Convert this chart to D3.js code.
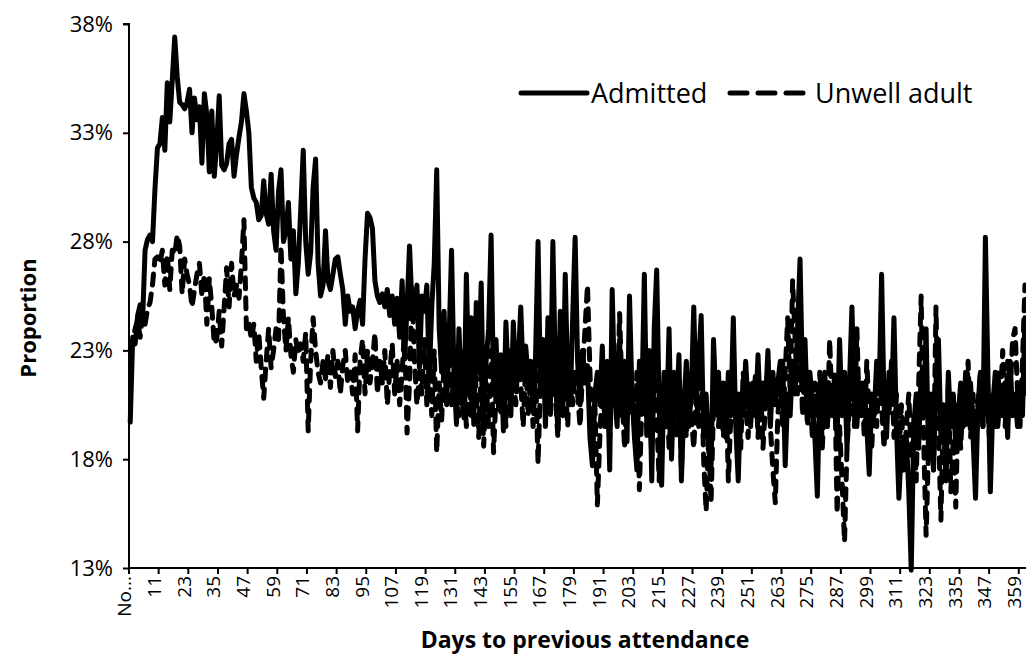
<!DOCTYPE html>
<html><head><meta charset="utf-8">
<script src="https://cdn.jsdelivr.net/npm/d3@7"></script>
<style>
html,body{margin:0;padding:0;background:#fff;}
svg{display:block;font-family:"Open Sans",sans-serif;}
</style></head>
<body><svg id="c" width="1026" height="660"></svg>
<script>
const categories = ["No previous attendance"].concat(d3.range(0, 366).map(String));
const seriesNames = ["Admitted", "Unwell adult"];
const admitted = [
19.7,23.6,23.3,24.6,25.1,24.4,27.6,28.1,28.3,28.0,30.4,32.3,
32.5,33.7,32.2,35.3,33.5,35.4,37.4,35.6,34.4,34.3,34.1,34.4,
35.0,33.0,34.6,33.6,34.2,31.6,34.8,33.8,31.2,34.0,31.0,32.5,
34.7,31.5,31.3,31.6,32.5,32.7,31.0,32.0,32.8,33.5,34.8,34.0,
33.0,30.5,30.0,29.8,29.0,29.2,30.8,29.3,28.8,31.1,28.5,27.6,
30.3,31.3,28.0,28.5,29.8,27.2,28.5,25.6,27.0,29.5,32.2,28.0,
26.5,27.5,30.5,31.8,27.0,25.5,26.0,28.5,26.2,25.8,26.5,27.2,
27.3,26.5,25.8,24.2,25.5,24.8,25.0,24.0,24.8,25.3,24.2,27.2,
29.3,29.1,28.6,26.2,25.5,25.2,25.6,25.0,25.8,24.6,25.5,24.2,
25.4,23.6,26.2,22.6,25.0,27.8,25.0,24.5,26.0,22.2,25.5,24.8,
26.0,21.8,25.0,27.0,31.3,24.0,22.0,24.8,20.5,23.5,27.6,21.8,
19.6,24.0,21.0,19.9,26.5,21.5,24.5,19.6,25.2,22.0,26.1,19.5,
22.5,24.0,28.3,21.0,23.5,20.3,22.8,19.3,24.3,21.5,20.0,24.3,
21.5,22.5,25.0,21.8,23.2,21.7,22.5,20.2,22.8,28.0,21.0,23.5,
19.5,24.5,20.5,28.0,22.0,19.3,24.8,20.0,26.5,21.5,20.5,24.5,
28.2,22.5,20.5,23.0,21.5,22.3,19.0,17.7,21.0,22.0,20.5,23.2,
19.5,22.0,17.5,25.8,21.0,19.5,23.5,20.0,22.5,18.8,25.5,21.0,
19.0,17.5,22.5,20.5,26.5,19.5,23.0,17.0,24.0,26.7,20.5,16.8,
22.0,19.5,24.0,18.0,21.5,20.0,22.8,17.0,20.5,22.5,19.5,21.0,
25.0,20.5,22.5,24.6,19.0,21.0,18.5,17.7,23.5,20.5,22.0,19.5,
21.5,19.0,22.0,20.0,24.5,19.5,17.0,21.0,20.0,22.5,20.5,19.5,
21.5,20.0,22.8,19.8,21.5,20.5,23.0,19.5,22.0,20.5,21.5,22.5,
22.5,17.7,21.0,20.0,22.5,21.0,24.0,27.2,21.5,23.5,20.0,22.0,
20.5,19.0,16.3,21.5,20.0,22.0,19.5,21.0,20.2,21.5,19.0,23.5,
20.0,22.0,18.5,21.5,25.0,20.5,19.5,21.5,20.0,21.0,19.5,17.3,
21.0,20.0,22.5,21.0,26.5,20.5,19.0,22.0,20.5,24.5,19.5,16.2,
18.5,17.5,19.0,16.5,12.9,19.5,21.0,18.5,22.0,20.0,24.0,18.0,
20.5,17.5,21.5,23.5,19.0,20.5,17.0,22.0,19.5,21.0,18.5,20.0,
21.5,19.5,22.0,20.0,21.5,19.0,16.2,20.5,22.0,19.5,28.2,22.0,
16.5,20.5,22.0,19.5,21.0,20.0,21.5,19.0,22.5,20.0,21.0,19.5,
21.5,20.0,24.5,21.0,22.0,20.5,21.0
];
const unwellAdult = [
23.0,23.5,24.0,24.4,23.6,24.6,24.2,24.9,25.2,26.0,27.2,27.3,
27.0,27.6,26.0,27.4,25.8,27.6,27.4,28.3,27.8,25.6,27.2,26.5,
26.0,25.0,25.8,26.5,27.0,25.5,26.5,24.2,26.3,25.0,23.3,23.5,
24.8,23.2,25.0,26.8,25.0,27.0,25.5,26.0,25.4,27.0,29.0,24.0,
24.3,23.5,24.2,22.5,23.8,22.2,20.8,22.5,24.0,22.2,23.0,24.0,
23.5,27.8,24.5,23.0,24.5,22.8,22.0,23.5,22.8,23.3,22.5,23.8,
19.3,22.5,24.5,23.0,22.0,21.5,22.5,21.7,22.8,21.3,23.0,21.8,
22.5,21.0,22.3,23.0,21.5,22.0,21.0,22.8,19.3,22.5,23.5,21.0,
23.0,21.5,22.5,23.8,21.0,22.5,21.5,23.0,20.5,22.0,23.3,21.0,
22.5,20.5,22.0,24.0,19.2,21.5,26.0,22.5,20.5,22.0,21.0,23.5,
20.5,22.5,20.0,23.0,18.3,21.5,19.8,22.5,21.0,23.0,20.5,22.0,
21.0,20.0,23.0,21.5,19.5,22.5,20.0,23.5,21.0,19.0,22.5,18.6,
21.5,19.5,23.0,18.3,21.0,22.5,20.0,21.5,19.5,23.0,20.5,22.0,
20.5,23.0,21.5,19.5,22.5,20.0,21.8,19.5,22.0,17.8,21.5,23.5,
21.0,22.5,20.0,23.5,21.0,19.0,22.5,20.5,21.5,19.5,22.5,20.5,
22.0,21.0,19.5,22.0,24.0,26.0,22.0,19.0,20.5,15.9,19.0,21.5,
20.0,22.5,19.0,21.5,23.0,20.0,24.7,21.0,18.5,22.0,20.0,21.5,
19.5,22.0,16.6,20.5,23.5,19.0,21.5,18.0,22.5,20.0,17.0,21.0,
19.5,22.0,18.5,20.5,22.0,19.0,21.5,17.5,20.5,19.0,22.0,20.0,
18.5,21.0,19.5,22.5,18.0,15.6,19.0,16.0,20.5,22.0,19.5,21.0,
19.0,21.5,17.0,20.0,22.5,19.5,21.0,18.5,22.0,20.5,19.0,21.5,
20.0,22.0,19.0,21.5,18.5,20.5,22.5,19.5,17.5,16.0,20.0,21.5,
19.5,22.0,24.5,21.0,26.2,23.5,21.0,24.0,20.0,22.5,19.5,21.0,
19.0,21.5,20.0,22.0,18.5,21.0,19.5,23.5,20.0,22.0,15.5,19.5,
17.0,14.2,18.5,20.5,22.0,19.5,24.0,20.0,21.5,19.0,22.5,20.0,
18.5,21.0,19.5,22.0,20.5,18.5,21.5,20.0,22.5,19.0,21.0,18.0,
20.5,17.5,19.5,21.0,18.0,20.0,17.0,21.5,25.5,19.0,14.5,18.5,
21.0,17.5,25.0,19.5,15.2,20.5,17.0,21.5,16.5,19.0,15.8,20.5,
18.5,21.0,19.5,22.5,19.0,21.0,18.5,20.5,22.0,19.5,21.5,20.0,
18.5,21.0,19.5,22.0,20.5,23.0,19.5,22.5,21.0,23.5,24.0,21.0,
19.5,22.5,26.0,23.0,22.0,21.5,22.0
];
const yTicks = [13, 18, 23, 28, 33, 38];
const tickEvery = 12;

(function draw() {
const svg = d3.select("#c");
const pLeft = 129, pBottom = 568, pTop = 24;
const step = 2.4716;
const x = d3.scaleBand().domain(categories).range([pLeft, pLeft + categories.length * step]).padding(0);
const y = d3.scaleLinear().domain([13, 38]).range([pBottom, pTop]);
const cx = d => x(d) + x.bandwidth() / 2;

// y axis
const yAxis = d3.axisLeft(y).tickValues(yTicks).tickSize(6).tickPadding(10).tickFormat(d => d + "%");
const gy = svg.append("g").attr("transform", `translate(${pLeft},0)`).call(yAxis);
gy.select(".domain").attr("stroke", "#000").attr("stroke-width", 2).attr("d", `M-6,${pTop}H0V${pBottom}`);
gy.selectAll(".tick line").attr("stroke", "#000").attr("stroke-width", 2);
gy.selectAll(".tick text").attr("font-size", 22).attr("fill", "#000").attr("font-family", "Open Sans");

// x axis line
svg.append("line").attr("x1", pLeft).attr("x2", 1026).attr("y1", pBottom).attr("y2", pBottom)
  .attr("stroke", "#000").attr("stroke-width", 2);
const tickCats = categories.filter((d, i) => i % tickEvery === 0);
svg.append("g").selectAll("line").data(tickCats).join("line")
  .attr("x1", d => x(d)).attr("x2", d => x(d)).attr("y1", pBottom).attr("y2", pBottom + 6)
  .attr("stroke", "#000").attr("stroke-width", 2);
svg.append("g").selectAll("text").data(tickCats).join("text")
  .attr("transform", d => `translate(${cx(d) + 1},${pBottom + 8}) rotate(-90)`)
  .attr("text-anchor", "end").attr("font-size", 19).attr("fill", "#000")
  .text((d, i) => i === 0 ? "No..." : d);

// lines
const line = d3.line().x((d, i) => cx(categories[i])).y(d => y(d));
svg.append("path").datum(unwellAdult).attr("d", line).attr("fill", "none")
  .attr("stroke", "#000").attr("stroke-width", 5).attr("stroke-dasharray", "11,9")
  .attr("stroke-linecap", "round").attr("stroke-linejoin", "round");
svg.append("path").datum(admitted).attr("d", line).attr("fill", "none")
  .attr("stroke", "#000").attr("stroke-width", 5)
  .attr("stroke-linejoin", "round").attr("stroke-linecap", "round");

// axis titles
svg.append("text").attr("transform", "translate(36,318) rotate(-90)").attr("text-anchor", "middle")
  .attr("font-size", 22).attr("font-weight", "bold").attr("fill", "#000").text("Proportion");
svg.append("text").attr("x", 585).attr("y", 648).attr("text-anchor", "middle")
  .attr("font-size", 23).attr("font-weight", "bold").attr("fill", "#000").text("Days to previous attendance");

// legend
const lg = svg.append("g");
lg.append("line").attr("x1", 521).attr("x2", 587).attr("y1", 93).attr("y2", 93)
  .attr("stroke", "#000").attr("stroke-width", 5).attr("stroke-linecap", "round");
lg.append("text").attr("x", 591).attr("y", 103).attr("font-size", 27).attr("fill", "#000").text(seriesNames[0]);
lg.append("line").attr("x1", 730).attr("x2", 804).attr("y1", 93).attr("y2", 93)
  .attr("stroke", "#000").attr("stroke-width", 5).attr("stroke-linecap", "round").attr("stroke-dasharray", "17,11");
lg.append("text").attr("x", 815).attr("y", 103).attr("font-size", 27).attr("fill", "#000").text(seriesNames[1]);
})();
</script></body></html>
